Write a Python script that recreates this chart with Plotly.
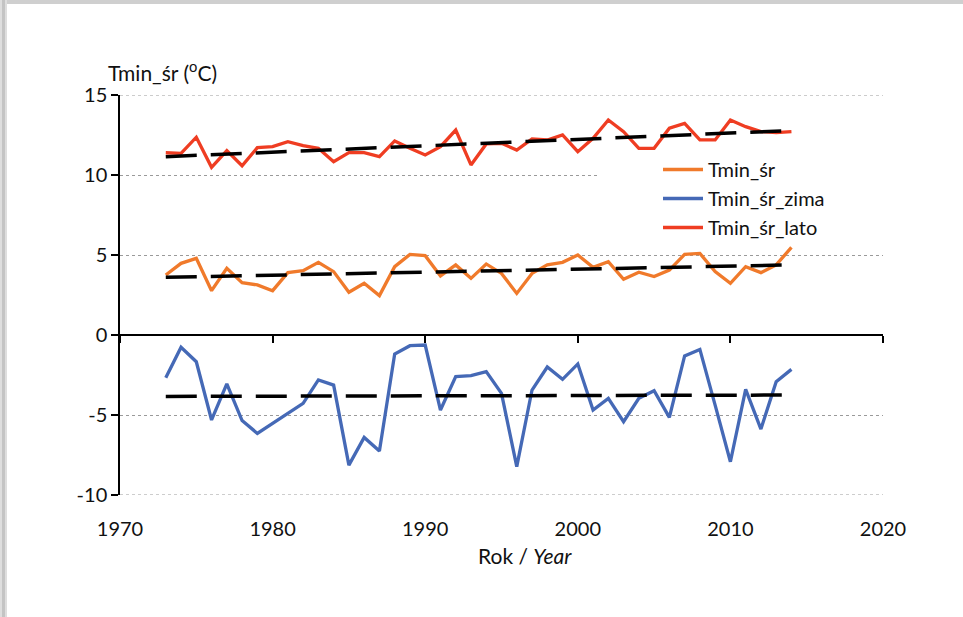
import numpy as np
import plotly.graph_objects as go

years = list(range(1973, 2015))

tmin_sr = [3.75, 4.48, 4.79, 2.77, 4.17, 3.27, 3.13, 2.77, 3.90, 4.02,
           4.54, 3.96, 2.67, 3.23, 2.46, 4.27, 5.04, 4.96, 3.69, 4.38,
           3.54, 4.44, 3.85, 2.60, 3.85, 4.38, 4.54, 5.00, 4.23, 4.58,
           3.48, 3.92, 3.65, 4.06, 5.04, 5.10, 3.96, 3.23, 4.27, 3.90,
           4.38, 5.48]

tmin_sr_zima = [-2.67, -0.77, -1.67, -5.31, -3.06, -5.35, -6.15, -5.52, -4.90, -4.27,
                -2.81, -3.13, -8.13, -6.40, -7.25, -1.19, -0.67, -0.63, -4.69, -2.60,
                -2.54, -2.29, -3.65, -8.23, -3.44, -2.00, -2.77, -1.81, -4.69, -3.96,
                -5.42, -3.96, -3.48, -5.15, -1.31, -0.90, -4.38, -7.92, -3.40, -5.88,
                -2.92, -2.15]

tmin_sr_lato = [11.39, 11.35, 12.36, 10.48, 11.52, 10.58, 11.71, 11.77, 12.08, 11.83,
                11.67, 10.83, 11.40, 11.40, 11.15, 12.13, 11.67, 11.25, 11.77, 12.81,
                10.63, 11.94, 11.98, 11.56, 12.25, 12.19, 12.50, 11.46, 12.29, 13.44,
                12.71, 11.67, 11.67, 12.92, 13.23, 12.19, 12.19, 13.44, 13.02, 12.71,
                12.65, 12.71]

x_ticks = [1970, 1980, 1990, 2000, 2010, 2020]
y_ticks = [-10, -5, 0, 5, 10, 15]
y_ticktext = ["-10", "-5", "0", "5", "10", "15"]

series = [
    ("Tmin_śr", tmin_sr, "#F07A2B"),
    ("Tmin_śr_zima", tmin_sr_zima, "#4569B6"),
    ("Tmin_śr_lato", tmin_sr_lato, "#EF3D22"),
]

FONT = "Lato"
TXT = "#111111"
FS = 20
GRID = "#9a9a9a"

fig = go.Figure()

for name, vals, col in series:
    fig.add_trace(go.Scatter(x=years, y=vals, mode="lines", name=name,
                             line=dict(color=col, width=3.3), xaxis="x"))

yrs = np.array(years, dtype=float)
for name, vals, col in series:
    k, b = np.polyfit(yrs, np.array(vals), 1)
    fig.add_trace(go.Scatter(x=years, y=list(k * yrs + b), mode="lines",
                             showlegend=False, hoverinfo="skip",
                             line=dict(color="black", width=3.5, dash="31px,14px"),
                             xaxis="x2"))

W, H = 963, 617
ml, mr, mt, mb = 120, 80, 95, 122
pw, ph = W - ml - mr, H - mt - mb


def px_x(p):
    return (p - ml) / pw


def px_y(p):
    return (H - mb - p) / ph


shapes = [
    # white patch where the legend box hides the gridline
    dict(type="rect", xref="paper", yref="paper", layer="above",
         x0=px_x(600), x1=px_x(886), y0=px_y(178), y1=px_y(172),
         fillcolor="white", line=dict(width=0)),
    # frame shadow: top and left
    dict(type="rect", xref="paper", yref="paper", layer="above",
         x0=px_x(0), x1=px_x(W), y0=px_y(4), y1=px_y(0),
         fillcolor="#cfcfcf", line=dict(width=0)),
    dict(type="rect", xref="paper", yref="paper", layer="above",
         x0=px_x(0), x1=px_x(7), y0=px_y(H), y1=px_y(0),
         fillcolor="#dedede", line=dict(width=0)),
    dict(type="rect", xref="paper", yref="paper", layer="above",
         x0=px_x(2), x1=px_x(5), y0=px_y(H), y1=px_y(0),
         fillcolor="#c4c4c4", line=dict(width=0)),
]
# gridlines at the range edges (not drawn by plotly itself)
for v in (y_ticks[0], y_ticks[-1]):
    shapes.append(dict(type="line", xref="paper", yref="y", layer="below",
                       x0=0, x1=1, y0=v, y1=v,
                       line=dict(color=GRID, width=1, dash="dot")))

fig.update_layout(
    width=W, height=H,
    margin=dict(l=ml, r=mr, t=mt, b=mb),
    paper_bgcolor="white", plot_bgcolor="white",
    font=dict(family=FONT, size=FS, color=TXT),
    showlegend=True,
    legend=dict(x=px_x(658), y=px_y(150), xanchor="left", yanchor="top",
                bgcolor="rgba(0,0,0,0)", font=dict(family=FONT, size=20, color=TXT),
                itemwidth=40, tracegroupgap=0),
    xaxis=dict(range=[1970, 2020], tickvals=x_ticks, showgrid=False, zeroline=False,
               showline=False, ticks="", ticklabelstandoff=20,
               tickfont=dict(family=FONT, size=FS, color=TXT)),
    xaxis2=dict(range=[1970, 2020], tickvals=x_ticks, overlaying="x", anchor="free",
                position=0.4, side="bottom", showgrid=False, zeroline=False,
                showline=True, linecolor="black", linewidth=1.5,
                ticks="outside", ticklen=7, tickcolor="black", tickwidth=1.5,
                showticklabels=False),
    yaxis=dict(range=[-10, 15], tickvals=y_ticks, ticktext=y_ticktext,
               showgrid=True, gridcolor=GRID,
               griddash="dot", gridwidth=1, zeroline=False,
               showline=True, linecolor="black", linewidth=1.5,
               ticks="outside", ticklen=7, tickcolor="black", tickwidth=1.5,
               tickfont=dict(family=FONT, size=FS, color=TXT)),
    shapes=shapes,
    annotations=[
        dict(text="Tmin_śr (<sup>o</sup>C)", xref="paper", yref="paper",
             x=px_x(106), y=px_y(71), xanchor="left", yanchor="middle",
             showarrow=False, font=dict(family=FONT, size=21, color=TXT)),
        dict(text="Rok / <i>Year</i>", xref="paper", yref="paper",
             x=px_x(525), y=px_y(555), xanchor="center", yanchor="middle",
             showarrow=False, font=dict(family=FONT, size=21, color=TXT)),
    ],
)

fig.write_html("out.html")
